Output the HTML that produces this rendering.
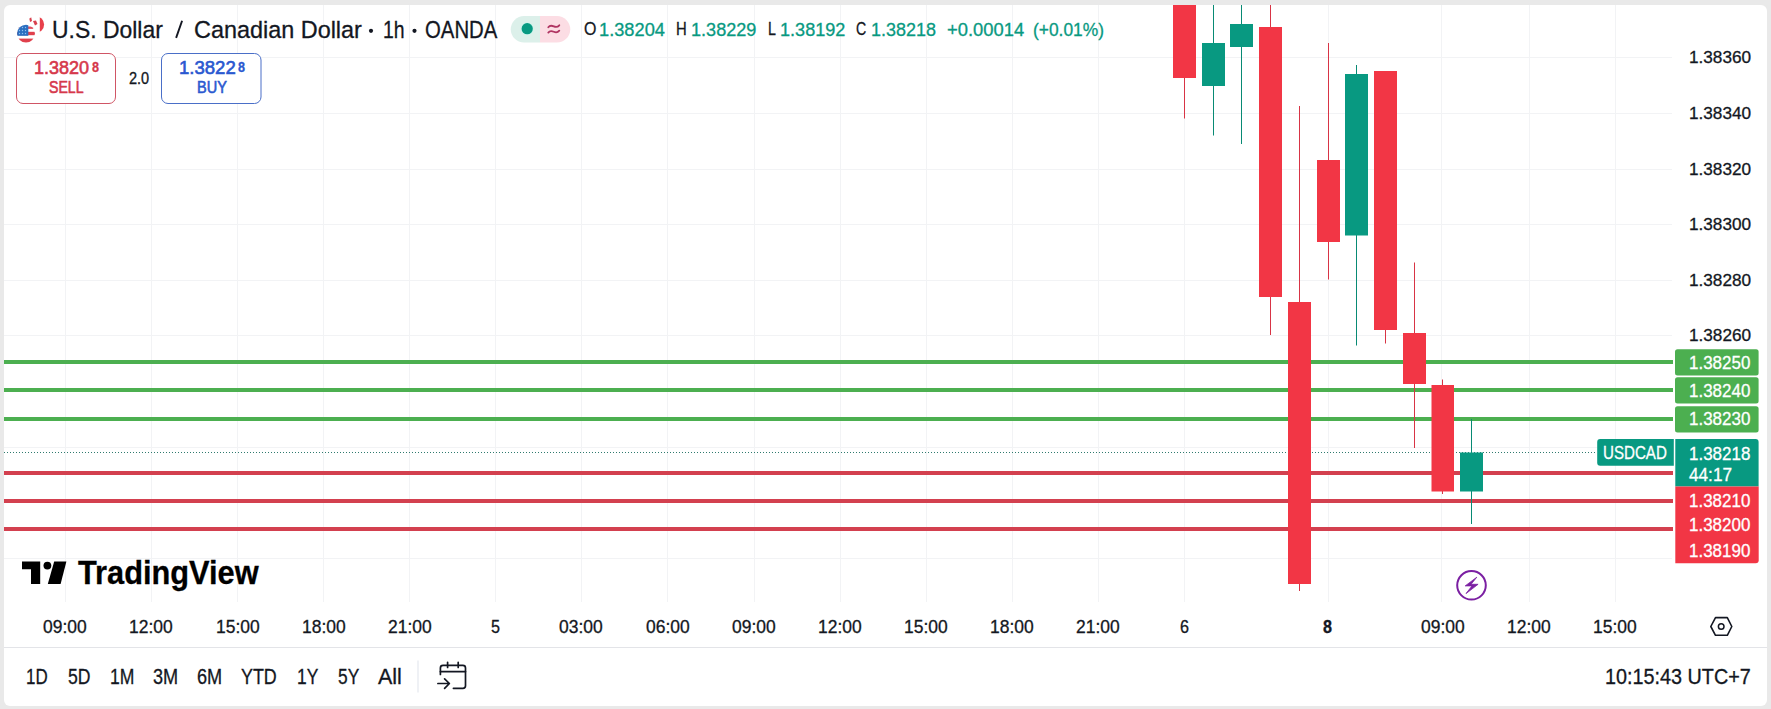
<!DOCTYPE html>
<html><head><meta charset="utf-8"><style>
html,body{margin:0;padding:0;}
body{width:1771px;height:709px;background:#e9e9e9;position:relative;overflow:hidden;font-family:"Liberation Sans",sans-serif;color:#131722;}
#panel{position:absolute;left:4px;top:5px;width:1763px;height:701px;background:#fff;border-radius:6px;}
svg{position:absolute;left:0;top:0;}
.t{position:absolute;white-space:nowrap;line-height:1;-webkit-text-stroke:0.3px currentColor;}
</style></head>
<body>
<div id="panel"></div>
<svg width="1771" height="709" viewBox="0 0 1771 709"><defs><clipPath id="cp"><rect x="4" y="5" width="1669" height="642"/></clipPath></defs><g stroke="#f2f3f5" stroke-width="1"><line x1="4" y1="57.5" x2="1672" y2="57.5"/><line x1="4" y1="113.5" x2="1672" y2="113.5"/><line x1="4" y1="169.5" x2="1672" y2="169.5"/><line x1="4" y1="224.5" x2="1672" y2="224.5"/><line x1="4" y1="280.5" x2="1672" y2="280.5"/><line x1="4" y1="335.5" x2="1672" y2="335.5"/><line x1="4" y1="391.5" x2="1672" y2="391.5"/><line x1="4" y1="447.5" x2="1672" y2="447.5"/><line x1="4" y1="502.5" x2="1672" y2="502.5"/><line x1="4" y1="558.5" x2="1672" y2="558.5"/><line x1="65.5" y1="5" x2="65.5" y2="602"/><line x1="151.5" y1="5" x2="151.5" y2="602"/><line x1="237.5" y1="5" x2="237.5" y2="602"/><line x1="323.5" y1="5" x2="323.5" y2="602"/><line x1="409.5" y1="5" x2="409.5" y2="602"/><line x1="495.5" y1="5" x2="495.5" y2="602"/><line x1="581.5" y1="5" x2="581.5" y2="602"/><line x1="667.5" y1="5" x2="667.5" y2="602"/><line x1="754.5" y1="5" x2="754.5" y2="602"/><line x1="840.5" y1="5" x2="840.5" y2="602"/><line x1="926.5" y1="5" x2="926.5" y2="602"/><line x1="1012.5" y1="5" x2="1012.5" y2="602"/><line x1="1098.5" y1="5" x2="1098.5" y2="602"/><line x1="1184.5" y1="5" x2="1184.5" y2="602"/><line x1="1328.5" y1="5" x2="1328.5" y2="602"/><line x1="1441.5" y1="5" x2="1441.5" y2="602"/><line x1="1529.5" y1="5" x2="1529.5" y2="602"/><line x1="1615.5" y1="5" x2="1615.5" y2="602"/></g><g clip-path="url(#cp)"><rect x="4" y="360" width="1670" height="4" fill="#4caf50"/><rect x="4" y="388" width="1670" height="4" fill="#4caf50"/><rect x="4" y="417" width="1670" height="4" fill="#4caf50"/><rect x="4" y="471" width="1670" height="4" fill="#d3404f"/><rect x="4" y="499" width="1670" height="4" fill="#d3404f"/><rect x="4" y="527" width="1670" height="4" fill="#d3404f"/><line x1="4" y1="452.5" x2="1597" y2="452.5" stroke="#2f7a6e" stroke-width="1" stroke-dasharray="1 2"/><rect x="1184" y="0" width="1" height="118.5" fill="#d83445"/><rect x="1173" y="0" width="23" height="78.0" fill="#f23645"/><rect x="1213" y="0" width="1" height="135.5" fill="#088a74"/><rect x="1202" y="43" width="23" height="43.0" fill="#089981"/><rect x="1241" y="0" width="1" height="144.0" fill="#088a74"/><rect x="1230" y="24" width="23" height="23.0" fill="#089981"/><rect x="1270" y="0" width="1" height="335.0" fill="#d83445"/><rect x="1259" y="27" width="23" height="270.0" fill="#f23645"/><rect x="1299" y="106" width="1" height="485.0" fill="#d83445"/><rect x="1288" y="302" width="23" height="282.0" fill="#f23645"/><rect x="1328" y="43" width="1" height="236.5" fill="#d83445"/><rect x="1317" y="160" width="23" height="82.0" fill="#f23645"/><rect x="1356" y="65" width="1" height="280.5" fill="#088a74"/><rect x="1345" y="74" width="23" height="161.5" fill="#089981"/><rect x="1385" y="71" width="1" height="272.5" fill="#d83445"/><rect x="1374" y="71" width="23" height="259.0" fill="#f23645"/><rect x="1414" y="262.5" width="1" height="185.5" fill="#d83445"/><rect x="1403" y="333" width="23" height="51.0" fill="#f23645"/><rect x="1442" y="379.5" width="1" height="114.5" fill="#d83445"/><rect x="1431.5" y="385" width="22.5" height="106.5" fill="#f23645"/><rect x="1471" y="419" width="1" height="105.0" fill="#088a74"/><rect x="1460" y="452.5" width="23" height="39.0" fill="#089981"/></g><rect x="4" y="647" width="1763" height="1" fill="#e3e4e8"/><!-- flag -->
<defs>
<clipPath id="ca"><circle cx="35.5" cy="24.5" r="8.6"/></clipPath>
<clipPath id="us"><circle cx="26" cy="33.6" r="8.9"/></clipPath>
</defs>
<g clip-path="url(#ca)">
<rect x="26" y="15" width="20" height="20" fill="#fff"/>
<rect x="39.8" y="15" width="6" height="20" fill="#e8404b"/>
<path d="M29 17 L31 16.5 L32 21 L30 22 Z" fill="#d9404e"/>
<path d="M33 21 L36 20.5 L37.5 24 L35 25.5 Z" fill="#d9404e"/>
</g>
<circle cx="26" cy="33.6" r="10.3" fill="#fff"/>
<g clip-path="url(#us)">
<rect x="16" y="24" width="20" height="20" fill="#fff"/>
<rect x="16" y="26.5" width="20" height="2.4" fill="#e0505e"/>
<rect x="16" y="31.8" width="20" height="3.4" fill="#e0404c"/>
<rect x="16" y="38.6" width="20" height="5" fill="#e0404c"/>
<rect x="16" y="24" width="12.3" height="11.8" fill="#2a6fc0"/><g fill="#8fc0ee"><circle cx="19.5" cy="27.5" r="0.7"/><circle cx="22.5" cy="27.5" r="0.7"/><circle cx="25.5" cy="27.5" r="0.7"/><circle cx="19.5" cy="30.5" r="0.7"/><circle cx="22.5" cy="30.5" r="0.7"/><circle cx="25.5" cy="30.5" r="0.7"/><circle cx="19.5" cy="33.5" r="0.7"/><circle cx="22.5" cy="33.5" r="0.7"/><circle cx="25.5" cy="33.5" r="0.7"/></g>
</g>
<!-- badge -->
<path d="M524 16 H540 V42.5 H524 A13.25 13.25 0 0 1 524 16 Z" fill="#dcf0ea"/>
<path d="M540 16 H557 A13.25 13.25 0 0 1 557 42.5 H540 Z" fill="#fcdde4"/>
<circle cx="527.2" cy="28.7" r="6.3" fill="#c9f5ec"/>
<circle cx="527.2" cy="28.7" r="5.6" fill="#089981"/>
<path d="M548.3 27.2 C550 25 552 25.6 553.8 26.4 C555.6 27.2 557.5 27.4 559.3 25.3 M548.3 32.6 C550 30.4 552 31 553.8 31.8 C555.6 32.6 557.5 32.8 559.3 30.7" stroke="#b03562" stroke-width="1.8" fill="none" stroke-linecap="round"/>
<!-- sell/buy -->
<rect x="16.5" y="53.5" width="99" height="50" rx="6.5" fill="#fff" stroke="#d05565" stroke-width="1"/>
<rect x="161.5" y="53.5" width="99.5" height="50" rx="6.5" fill="#fff" stroke="#4a6fc8" stroke-width="1"/>
<!-- tv logo mark -->
<path d="M22 561.6 H40.2 V584 H31 V569.3 H22 Z" fill="#000"/>
<circle cx="47.4" cy="565.6" r="3.9" fill="#000"/>
<path d="M54.2 561.6 H66.4 L60.6 584 H47.8 Z" fill="#000"/>
<!-- price axis labels -->
<rect x="1675" y="349.2" width="83.6" height="26.3" rx="2.5" fill="#4caf50"/>
<rect x="1675" y="377.3" width="83.6" height="26.3" rx="2.5" fill="#4caf50"/>
<rect x="1675" y="406.2" width="83.6" height="26.3" rx="2.5" fill="#4caf50"/>
<path d="M1600.2 439.1 H1673.8 V465.7 H1600.2 A3 3 0 0 1 1597.2 462.7 V442.1 A3 3 0 0 1 1600.2 439.1 Z" fill="#089981"/>
<path d="M1675.3 439.1 H1755.6 A3 3 0 0 1 1758.6 442.1 V486.5 H1675.3 Z" fill="#089981"/>
<path d="M1675.3 486.5 H1758.7 V560.2 A3 3 0 0 1 1755.7 563.2 H1675.3 Z" fill="#f23645"/>
<!-- lightning -->
<circle cx="1471.5" cy="585.3" r="14.3" fill="none" stroke="#7b1fa2" stroke-width="2"/>
<path d="M1476.8 577.2 L1465.2 585.9 L1472.0 585.9 L1466.0 593.6 L1478.1 584.3 L1471.0 584.3 Z" fill="#7b1fa2" stroke="#7b1fa2" stroke-width="0.8" stroke-linejoin="round"/>
<!-- settings hex -->
<path d="M1710.8 626.5 L1715.5 617.6 H1727.3 L1731.8 626.5 L1727.3 635.3 H1715.5 Z" fill="none" stroke="#131722" stroke-width="1.6" stroke-linejoin="round"/>
<circle cx="1721.2" cy="626.5" r="2.8" fill="none" stroke="#131722" stroke-width="1.5"/>
<!-- toolbar separator -->
<rect x="417.5" y="660.5" width="1" height="32" fill="#e0e3eb"/>
<!-- calendar icon -->
<g fill="none" stroke="#131722" stroke-width="1.7" stroke-linecap="round" stroke-linejoin="round">
<path d="M440.4 674.5 V668 Q440.4 665.4 443 665.4 H462.9 Q465.5 665.4 465.5 668 V685.7 Q465.5 688.3 462.9 688.3 H453.4"/>
<path d="M440.4 671.6 H465.5"/>
<path d="M447.6 662.3 V667.5 M458.2 662.3 V667.5"/>
<path d="M437.9 683.5 H449.3 M444.6 678.8 L449.4 683.5 L444.6 688.4"/>
</g>
</svg>
<div class="t" style="left:51.70px;top:18.08px;font-size:24.13px;color:#131722;transform:scaleX(0.9498);transform-origin:0 0;">U.S. Dollar</div>
<div class="t" style="left:193.90px;top:18.08px;font-size:24.13px;color:#131722;transform:scaleX(0.9704);transform-origin:0 0;">Canadian Dollar</div>
<div class="t" style="left:382.60px;top:18.08px;font-size:24.13px;color:#131722;transform:scaleX(0.8051);transform-origin:0 0;">1h</div>
<div class="t" style="left:424.80px;top:18.08px;font-size:24.13px;color:#131722;transform:scaleX(0.8438);transform-origin:0 0;">OANDA</div>
<svg width="1771" height="50" style="position:absolute;left:0;top:0"><line x1="176.1" y1="37.9" x2="182.1" y2="20.8" stroke="#131722" stroke-width="1.9"/><circle cx="371" cy="30.8" r="2.1" fill="#131722"/><circle cx="414.5" cy="30.8" r="2.1" fill="#131722"/></svg>
<div class="t" style="left:583.50px;top:20.31px;font-size:18.90px;color:#131722;transform:scaleX(0.8435);transform-origin:0 0;">O</div>
<div class="t" style="left:599.30px;top:20.53px;font-size:18.62px;color:#089981;transform:scaleX(0.9803);transform-origin:0 0;">1.38204</div>
<div class="t" style="left:676.10px;top:20.31px;font-size:18.90px;color:#131722;transform:scaleX(0.7843);transform-origin:0 0;">H</div>
<div class="t" style="left:691.30px;top:20.53px;font-size:18.62px;color:#089981;transform:scaleX(0.9728);transform-origin:0 0;">1.38229</div>
<div class="t" style="left:767.90px;top:20.31px;font-size:18.90px;color:#131722;transform:scaleX(0.7520);transform-origin:0 0;">L</div>
<div class="t" style="left:780.30px;top:20.53px;font-size:18.62px;color:#089981;transform:scaleX(0.9728);transform-origin:0 0;">1.38192</div>
<div class="t" style="left:856.00px;top:20.31px;font-size:18.90px;color:#131722;transform:scaleX(0.7477);transform-origin:0 0;">C</div>
<div class="t" style="left:871.20px;top:20.53px;font-size:18.62px;color:#089981;transform:scaleX(0.9654);transform-origin:0 0;">1.38218</div>
<div class="t" style="left:947.20px;top:20.53px;font-size:18.62px;color:#089981;transform:scaleX(0.9872);transform-origin:0 0;">+0.00014</div>
<div class="t" style="left:1032.60px;top:20.53px;font-size:18.62px;color:#089981;transform:scaleX(0.9345);transform-origin:0 0;">(+0.01%)</div>
<div class="t" style="left:33.90px;top:58.73px;font-size:18.62px;color:#d6384b;transform:scaleX(0.9689);transform-origin:0 0;-webkit-text-stroke:0.6px currentColor;">1.3820</div>
<div class="t" style="left:92.30px;top:58.89px;font-size:15.25px;color:#d6384b;transform:scaleX(0.8253);transform-origin:0 0;font-weight:bold;">8</div>
<div class="t" style="left:48.80px;top:80.47px;font-size:16.57px;color:#d6384b;transform:scaleX(0.8537);transform-origin:0 0;-webkit-text-stroke:0.6px currentColor;">SELL</div>
<div class="t" style="left:128.60px;top:71.46px;font-size:15.76px;color:#131722;transform:scaleX(0.9221);transform-origin:0 0;">2.0</div>
<div class="t" style="left:179.20px;top:58.73px;font-size:18.62px;color:#2a58d0;transform:scaleX(0.9970);transform-origin:0 0;-webkit-text-stroke:0.6px currentColor;">1.3822</div>
<div class="t" style="left:237.90px;top:58.89px;font-size:15.25px;color:#2a58d0;transform:scaleX(0.8253);transform-origin:0 0;font-weight:bold;">8</div>
<div class="t" style="left:196.70px;top:80.47px;font-size:16.57px;color:#2a58d0;transform:scaleX(0.8747);transform-origin:0 0;-webkit-text-stroke:0.6px currentColor;">BUY</div>
<div class="t" style="left:1689.00px;top:50.45px;font-size:16.95px;color:#131722;transform:scaleX(1.0135);transform-origin:0 0;">1.38360</div>
<div class="t" style="left:1689.00px;top:106.15px;font-size:16.95px;color:#131722;transform:scaleX(1.0135);transform-origin:0 0;">1.38340</div>
<div class="t" style="left:1689.00px;top:161.65px;font-size:16.95px;color:#131722;transform:scaleX(1.0135);transform-origin:0 0;">1.38320</div>
<div class="t" style="left:1689.00px;top:217.15px;font-size:16.95px;color:#131722;transform:scaleX(1.0135);transform-origin:0 0;">1.38300</div>
<div class="t" style="left:1689.00px;top:272.75px;font-size:16.95px;color:#131722;transform:scaleX(1.0135);transform-origin:0 0;">1.38280</div>
<div class="t" style="left:1689.00px;top:328.15px;font-size:16.95px;color:#131722;transform:scaleX(1.0135);transform-origin:0 0;">1.38260</div>
<div class="t" style="left:1689.20px;top:354.72px;font-size:17.94px;color:#ffffff;transform:scaleX(0.9469);transform-origin:0 0;">1.38250</div>
<div class="t" style="left:1689.20px;top:382.85px;font-size:17.66px;color:#ffffff;transform:scaleX(0.9620);transform-origin:0 0;">1.38240</div>
<div class="t" style="left:1689.20px;top:411.02px;font-size:17.94px;color:#ffffff;transform:scaleX(0.9469);transform-origin:0 0;">1.38230</div>
<div class="t" style="left:1689.20px;top:444.50px;font-size:18.08px;color:#ffffff;transform:scaleX(0.9395);transform-origin:0 0;">1.38218</div>
<div class="t" style="left:1689.20px;top:492.57px;font-size:17.51px;color:#ffffff;transform:scaleX(0.9698);transform-origin:0 0;">1.38210</div>
<div class="t" style="left:1689.20px;top:517.37px;font-size:17.51px;color:#ffffff;transform:scaleX(0.9698);transform-origin:0 0;">1.38200</div>
<div class="t" style="left:1689.20px;top:542.77px;font-size:17.51px;color:#ffffff;transform:scaleX(0.9698);transform-origin:0 0;">1.38190</div>
<div class="t" style="left:1689.00px;top:465.50px;font-size:18.08px;color:#ffffff;transform:scaleX(0.9506);transform-origin:0 0;">44:17</div>
<div class="t" style="left:1603.30px;top:444.28px;font-size:18.34px;color:#ffffff;transform:scaleX(0.8251);transform-origin:0 0;">USDCAD</div>
<div class="t" style="left:43.15px;top:619.24px;font-size:17.80px;color:#131722;transform:scaleX(0.9814);transform-origin:0 0;">09:00</div>
<div class="t" style="left:129.45px;top:619.24px;font-size:17.80px;color:#131722;transform:scaleX(0.9814);transform-origin:0 0;">12:00</div>
<div class="t" style="left:215.55px;top:619.24px;font-size:17.80px;color:#131722;transform:scaleX(0.9814);transform-origin:0 0;">15:00</div>
<div class="t" style="left:301.65px;top:619.24px;font-size:17.80px;color:#131722;transform:scaleX(0.9814);transform-origin:0 0;">18:00</div>
<div class="t" style="left:387.75px;top:619.24px;font-size:17.80px;color:#131722;transform:scaleX(0.9814);transform-origin:0 0;">21:00</div>
<div class="t" style="left:490.50px;top:619.24px;font-size:17.80px;color:#131722;transform:scaleX(0.9096);transform-origin:0 0;">5</div>
<div class="t" style="left:559.35px;top:619.24px;font-size:17.80px;color:#131722;transform:scaleX(0.9814);transform-origin:0 0;">03:00</div>
<div class="t" style="left:645.65px;top:619.24px;font-size:17.80px;color:#131722;transform:scaleX(0.9814);transform-origin:0 0;">06:00</div>
<div class="t" style="left:731.95px;top:619.24px;font-size:17.80px;color:#131722;transform:scaleX(0.9814);transform-origin:0 0;">09:00</div>
<div class="t" style="left:817.95px;top:619.24px;font-size:17.80px;color:#131722;transform:scaleX(0.9814);transform-origin:0 0;">12:00</div>
<div class="t" style="left:904.05px;top:619.24px;font-size:17.80px;color:#131722;transform:scaleX(0.9814);transform-origin:0 0;">15:00</div>
<div class="t" style="left:990.15px;top:619.24px;font-size:17.80px;color:#131722;transform:scaleX(0.9814);transform-origin:0 0;">18:00</div>
<div class="t" style="left:1076.15px;top:619.24px;font-size:17.80px;color:#131722;transform:scaleX(0.9814);transform-origin:0 0;">21:00</div>
<div class="t" style="left:1179.70px;top:619.24px;font-size:17.80px;color:#131722;transform:scaleX(0.9096);transform-origin:0 0;">6</div>
<div class="t" style="left:1323.20px;top:619.24px;font-size:17.80px;color:#131722;transform:scaleX(0.9096);transform-origin:0 0;font-weight:bold;">8</div>
<div class="t" style="left:1420.55px;top:619.24px;font-size:17.80px;color:#131722;transform:scaleX(0.9814);transform-origin:0 0;">09:00</div>
<div class="t" style="left:1506.65px;top:619.24px;font-size:17.80px;color:#131722;transform:scaleX(0.9814);transform-origin:0 0;">12:00</div>
<div class="t" style="left:1593.15px;top:619.24px;font-size:17.80px;color:#131722;transform:scaleX(0.9814);transform-origin:0 0;">15:00</div>
<div class="t" style="left:26.40px;top:666.44px;font-size:21.80px;color:#131722;transform:scaleX(0.7788);transform-origin:0 0;">1D</div>
<div class="t" style="left:67.90px;top:666.44px;font-size:21.80px;color:#131722;transform:scaleX(0.8075);transform-origin:0 0;">5D</div>
<div class="t" style="left:110.30px;top:666.44px;font-size:21.80px;color:#131722;transform:scaleX(0.8057);transform-origin:0 0;">1M</div>
<div class="t" style="left:153.30px;top:666.44px;font-size:21.80px;color:#131722;transform:scaleX(0.8321);transform-origin:0 0;">3M</div>
<div class="t" style="left:197.10px;top:666.44px;font-size:21.80px;color:#131722;transform:scaleX(0.8321);transform-origin:0 0;">6M</div>
<div class="t" style="left:240.90px;top:666.44px;font-size:21.80px;color:#131722;transform:scaleX(0.8210);transform-origin:0 0;">YTD</div>
<div class="t" style="left:296.60px;top:666.44px;font-size:21.80px;color:#131722;transform:scaleX(0.7988);transform-origin:0 0;">1Y</div>
<div class="t" style="left:337.80px;top:666.44px;font-size:21.80px;color:#131722;transform:scaleX(0.7951);transform-origin:0 0;">5Y</div>
<div class="t" style="left:377.60px;top:666.44px;font-size:21.80px;color:#131722;transform:scaleX(0.9867);transform-origin:0 0;">All</div>
<div class="t" style="left:1604.80px;top:666.53px;font-size:21.35px;color:#131722;transform:scaleX(0.9272);transform-origin:0 0;">10:15:43 UTC+7</div>
<div class="t" style="left:77.50px;top:557.26px;font-size:32.41px;color:#000;transform:scaleX(0.9491);transform-origin:0 0;font-weight:bold;">TradingView</div>
</body></html>
